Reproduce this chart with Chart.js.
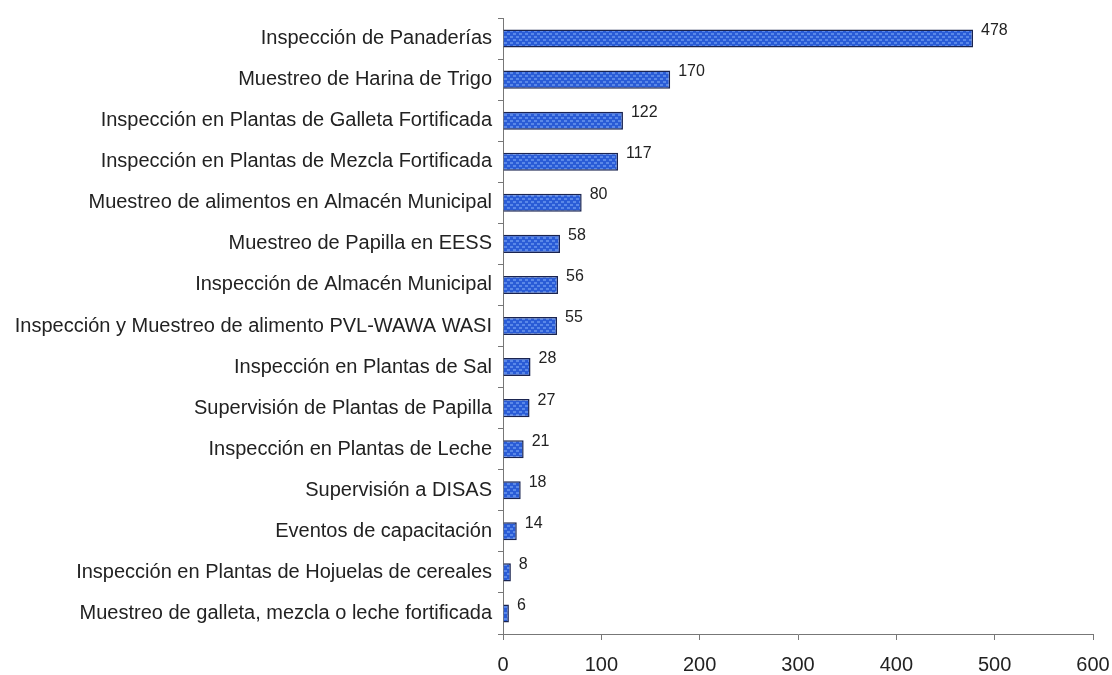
<!DOCTYPE html>
<html>
<head>
<meta charset="utf-8">
<script src="https://cdn.jsdelivr.net/npm/chart.js@4"></script>
<style>
  html, body { margin: 0; padding: 0; background: #fff; }
  #wrap { width: 1112px; height: 675px; }
</style>
</head>
<body>
<div id="wrap"><canvas id="chart" width="1112" height="675"></canvas></div>
<script>
// categorías y valores (de arriba hacia abajo)
const categories = [
    'Inspección de Panaderías',
    'Muestreo de Harina de Trigo',
    'Inspección en Plantas de Galleta Fortificada',
    'Inspección en Plantas de Mezcla Fortificada',
    'Muestreo de alimentos en Almacén Municipal',
    'Muestreo de Papilla en EESS',
    'Inspección de Almacén Municipal',
    'Inspección y Muestreo de alimento PVL-WAWA WASI',
    'Inspección en Plantas de Sal',
    'Supervisión de Plantas de Papilla',
    'Inspección en Plantas de Leche',
    'Supervisión a DISAS',
    'Eventos de capacitación',
    'Inspección en Plantas de Hojuelas de cereales',
    'Muestreo de galleta, mezcla o leche fortificada'
];
const values = [478, 170, 122, 117, 80, 58, 56, 55, 28, 27, 21, 18, 14, 8, 6];
const xTicks = [0, 100, 200, 300, 400, 500, 600];

const FONT = '"Liberation Sans", Arial, sans-serif';

// textura de las barras
function makePattern() {
    const p = document.createElement('canvas');
    p.width = 6; p.height = 6;
    const c = p.getContext('2d');
    c.fillStyle = '#2a5cd6';
    c.fillRect(0, 0, 6, 6);
    c.fillStyle = '#5a88e8';
    c.fillRect(0, 0, 3, 2);
    c.fillRect(3, 3, 3, 2);
    return c.createPattern(p, 'repeat');
}

// etiquetas de valor junto al final de cada barra
const valueLabels = {
    id: 'valueLabels',
    afterDatasetsDraw(chart) {
        const ctx = chart.ctx;
        const meta = chart.getDatasetMeta(0);
        ctx.save();
        ctx.font = '16px ' + FONT;
        ctx.fillStyle = '#222';
        ctx.textAlign = 'left';
        ctx.textBaseline = 'middle';
        meta.data.forEach((bar, i) => {
            ctx.fillText(values[i], bar.x + 8, bar.y - 8);
        });
        ctx.restore();
    }
};

const ctx = document.getElementById('chart').getContext('2d');
new Chart(ctx, {
    type: 'bar',
    data: {
        labels: categories,
        datasets: [{
            data: values,
            backgroundColor: makePattern(),
            borderColor: '#1a2450',
            borderWidth: 1.5,
            barPercentage: 0.44,
            categoryPercentage: 1
        }]
    },
    options: {
        indexAxis: 'y',
        responsive: false,
        animation: false,
        layout: { padding: { top: 15, right: 19, bottom: -15, left: 0 } },
        plugins: {
            legend: { display: false },
            tooltip: { enabled: false }
        },
        scales: {
            x: {
                min: 0,
                max: 600,
                afterBuildTicks(axis) {
                    axis.ticks = xTicks.map(v => ({ value: v }));
                },
                afterFit(axis) {
                    axis.paddingRight = 0;
                    axis.paddingLeft = 0;
                },
                grid: {
                    drawOnChartArea: false,
                    drawTicks: true,
                    tickLength: 6,
                    color: '#777'
                },
                border: { color: '#777', width: 1 },
                ticks: {
                    color: '#222',
                    padding: 15,
                    font: { family: FONT, size: 20, lineHeight: 1 }
                }
            },
            y: {
                afterFit(axis) { axis.width = 503; },
                grid: {
                    offset: true,
                    drawOnChartArea: false,
                    drawTicks: true,
                    tickLength: 5,
                    color: '#777'
                },
                border: { color: '#777', width: 1 },
                ticks: {
                    color: '#222',
                    padding: 6,
                    autoSkip: false,
                    font: { family: FONT, size: 20 }
                }
            }
        }
    },
    plugins: [valueLabels]
});
</script>
</body>
</html>
